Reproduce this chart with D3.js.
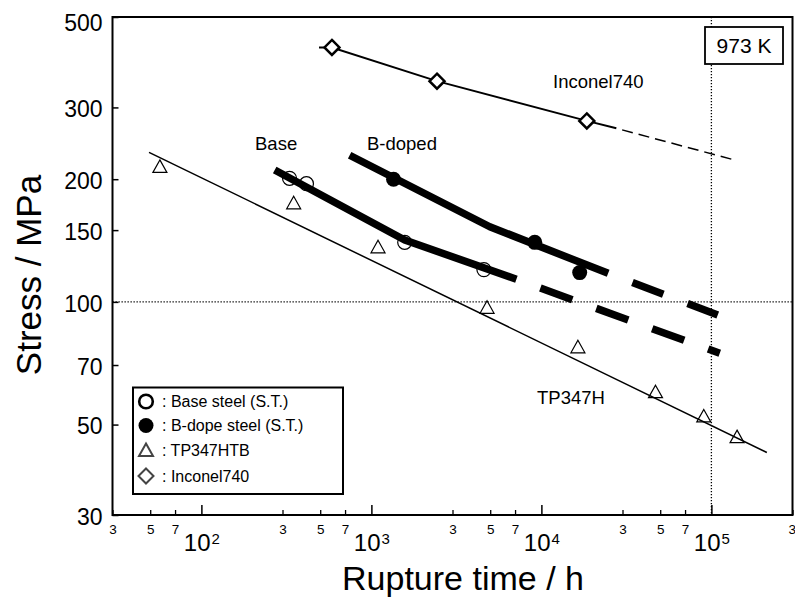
<!DOCTYPE html>
<html><head><meta charset="utf-8">
<script src="https://cdn.jsdelivr.net/npm/d3@7"></script>
<style>
body{margin:0;background:#fff}
svg{display:block}
text{font-family:"Liberation Sans",Arial,Helvetica,sans-serif;fill:#000}
</style></head><body>
<svg id="chart" width="795" height="600"></svg>
<script>
// ---------- data ----------
const xMinorTicks = [30, 50, 70, 300, 500, 700, 3000, 5000, 7000, 30000, 50000, 70000, 300000];
const xMajorTicks = [100, 1000, 10000, 100000];
const xMajorExponents = ["2", "3", "4", "5"];
const yTicks = [30, 50, 70, 100, 150, 200, 300, 500];

const baseTime = [330, 415, 1570, 4590];
const baseStress = [201, 195, 140, 120];
const bdopeTime = [1350, 9140, 16800];
const bdopeStress = [200, 140, 118];
const tpTime = [57, 349, 1094, 4790, 16400, 46900, 90200, 141600];
const tpStress = [215, 175, 136.5, 97, 77.6, 60.2, 52.5, 46.7];
const incTime = [586, 2432, 18500];
const incStress = [421, 348, 278];

const baseFitTime = [270, 1570, 7130];
const baseFitStress = [210.7, 141.9, 113.6];
const baseExtTime = [7130, 112000];
const baseExtStress = [113.6, 74.8];
const bdopeFitTime = [745, 4970, 24700];
const bdopeFitStress = [229, 152.9, 117.5];
const bdopeExtTime = [24700, 109000];
const bdopeExtStress = [117.5, 92.9];
const tpFitTime = [49.2, 212000];
const tpFitStress = [232.8, 42.7];
const incFitTime = [492, 586, 2432, 18500, 27600];
const incFitStress = [421, 421, 348, 278, 266.6];
const incExtTime = [27600, 137000];
const incExtStress = [266.6, 222.9];

const refStress = 100;
const refTime = 100000;

const legendLabels = [": Base steel (S.T.)", ": B-dope steel (S.T.)", ": TP347HTB", ": Inconel740"];

// ---------- layout ----------
const svg = d3.select("#chart");
const X0 = 112.5, X1 = 792.5, Y0 = 515, Y1 = 17;
const x = d3.scaleLog().domain([30, 300000]).range([X0, X1]);
const y = d3.scaleLog().domain([30, 500]).range([Y0, Y1]);
const zip = (a, b) => a.map((v, i) => [v, b[i]]);
const line = d3.line().x(d => x(d[0])).y(d => y(d[1]));

svg.append("rect").attr("width", 795).attr("height", 600).attr("fill", "#fff");

// reference dotted lines
svg.append("line").attr("x1", X0).attr("x2", X1).attr("y1", y(refStress)).attr("y2", y(refStress))
  .attr("stroke", "#000").attr("stroke-width", 1.3).attr("stroke-dasharray", "1.3,1.7");
svg.append("line").attr("x1", x(refTime)).attr("x2", x(refTime)).attr("y1", Y1).attr("y2", Y0)
  .attr("stroke", "#000").attr("stroke-width", 1.3).attr("stroke-dasharray", "1.3,1.7");

// axes
const gy = svg.append("g").attr("transform", `translate(${X0},0)`)
  .call(d3.axisLeft(y).tickValues(yTicks).tickSize(-6).tickPadding(10).tickFormat(d3.format("d")));
gy.select(".domain").remove();
gy.selectAll("line").attr("stroke", "#000").attr("stroke-width", 1.5);
gy.selectAll("text").attr("font-size", 23).attr("font-family", null)
  .attr("dy", d => d === 500 ? "0.6em" : "0.4em");

const gxm = svg.append("g").attr("transform", `translate(0,${Y0})`)
  .call(d3.axisBottom(x).tickValues(xMinorTicks).tickSize(-5).tickPadding(9)
    .tickFormat(d => String(d).charAt(0)));
gxm.select(".domain").remove();
gxm.selectAll("line").attr("stroke", "#000").attr("stroke-width", 1.3);
gxm.selectAll("text").attr("font-size", 13.5).attr("font-family", null)
  .attr("text-anchor", d => d === 300000 ? "end" : "middle")
  .attr("dx", d => d === 300000 ? "3" : "0");

const gxM = svg.append("g").attr("transform", `translate(0,${Y0})`)
  .call(d3.axisBottom(x).tickValues(xMajorTicks).tickSize(-10).tickPadding(19).tickFormat(() => "10"));
gxM.select(".domain").remove();
gxM.selectAll("line").attr("stroke", "#000").attr("stroke-width", 1.5);
gxM.selectAll("text").attr("font-size", 24).attr("font-family", null)
  .each(function(d, i) {
    d3.select(this).append("tspan").attr("font-size", 15).attr("dy", "-0.45em").attr("dx", "1")
      .text(xMajorExponents[i]);
  });

// axis titles
svg.append("text").attr("x", 463).attr("y", 590).attr("text-anchor", "middle")
  .attr("font-size", 34).text("Rupture time / h");
svg.append("text").attr("transform", "translate(41,275) rotate(-90)").attr("text-anchor", "middle")
  .attr("font-size", 35).text("Stress / MPa");

// TP347H line and triangles
const triPath = "M0,-6.5L7,6L-7,6Z";
const diaPath = "M0,-7.5L7.5,0L0,7.5L-7.5,0Z";
svg.append("path").attr("d", line(zip(tpFitTime, tpFitStress))).attr("fill", "none")
  .attr("stroke", "#000").attr("stroke-width", 1.5);
svg.selectAll(".tri").data(zip(tpTime, tpStress)).join("path").attr("class", "tri")
  .attr("d", triPath).attr("transform", d => `translate(${x(d[0])},${y(d[1])})`)
  .attr("fill", "none").attr("stroke", "#000").attr("stroke-width", 1.2);

// base steel circles then thick lines
svg.selectAll(".oc").data(zip(baseTime, baseStress)).join("circle").attr("class", "oc")
  .attr("cx", d => x(d[0])).attr("cy", d => y(d[1])).attr("r", 7)
  .attr("fill", "none").attr("stroke", "#000").attr("stroke-width", 1.2);

const thick = (t, s) => svg.append("path").attr("d", line(zip(t, s))).attr("fill", "none")
  .attr("stroke", "#000").attr("stroke-width", 7.5).attr("stroke-linejoin", "round");
thick(baseFitTime, baseFitStress);
thick(bdopeFitTime, bdopeFitStress);
thick(baseExtTime, baseExtStress).attr("stroke-dasharray", "34,25.5").attr("stroke-dashoffset", 34);
thick(bdopeExtTime, bdopeExtStress).attr("stroke-dasharray", "33,26").attr("stroke-dashoffset", 33);

svg.selectAll(".fc").data(zip(bdopeTime, bdopeStress)).join("circle").attr("class", "fc")
  .attr("cx", d => x(d[0])).attr("cy", d => y(d[1])).attr("r", 7.5).attr("fill", "#000");

// Inconel
svg.append("path").attr("d", line(zip(incFitTime, incFitStress))).attr("fill", "none")
  .attr("stroke", "#000").attr("stroke-width", 2);
svg.append("path").attr("d", line(zip(incExtTime, incExtStress))).attr("fill", "none")
  .attr("stroke", "#000").attr("stroke-width", 1.5).attr("stroke-dasharray", "11,6").attr("stroke-dashoffset", 11);
svg.selectAll(".dia").data(zip(incTime, incStress)).join("path").attr("class", "dia")
  .attr("d", diaPath).attr("transform", d => `translate(${x(d[0])},${y(d[1])})`)
  .attr("fill", "#fff").attr("stroke", "#000").attr("stroke-width", 2.5);

// annotations
const ann = [["Base", 255, 150], ["B-doped", 367, 150], ["Inconel740", 553, 88], ["TP347H", 537, 404]];
ann.forEach(a => svg.append("text").attr("x", a[1]).attr("y", a[2]).attr("font-size", 18.5).text(a[0]));

// 973 K box
svg.append("rect").attr("x", 705).attr("y", 27).attr("width", 78).attr("height", 37)
  .attr("fill", "#fff").attr("stroke", "#000").attr("stroke-width", 1.8);
svg.append("text").attr("x", 744).attr("y", 53).attr("text-anchor", "middle").attr("font-size", 21).text("973 K");

// legend
svg.append("rect").attr("x", 133).attr("y", 387.5).attr("width", 210).attr("height", 106.5)
  .attr("fill", "#fff").attr("stroke", "#000").attr("stroke-width", 2);
const legY = [401.5, 425.5, 450, 476];
const lg = svg.append("g");
lg.append("circle").attr("cx", 146).attr("cy", legY[0]).attr("r", 6.8).attr("fill", "#fff")
  .attr("stroke", "#000").attr("stroke-width", 2.6);
lg.append("circle").attr("cx", 146).attr("cy", legY[1]).attr("r", 7.5).attr("fill", "#000");
lg.append("path").attr("d", triPath).attr("transform", `translate(146,${legY[2]})`)
  .attr("fill", "#fff").attr("stroke", "#444").attr("stroke-width", 2);
lg.append("path").attr("d", diaPath).attr("transform", `translate(146,${legY[3]})`)
  .attr("fill", "#fff").attr("stroke", "#444").attr("stroke-width", 2);
legendLabels.forEach((t, i) => lg.append("text").attr("x", 162).attr("y", legY[i]).attr("dy", "0.36em")
  .attr("font-size", 16).text(t));

// frame
svg.append("rect").attr("x", X0).attr("y", Y1).attr("width", X1 - X0).attr("height", Y0 - Y1)
  .attr("fill", "none").attr("stroke", "#000").attr("stroke-width", 2);
</script>
</body></html>
